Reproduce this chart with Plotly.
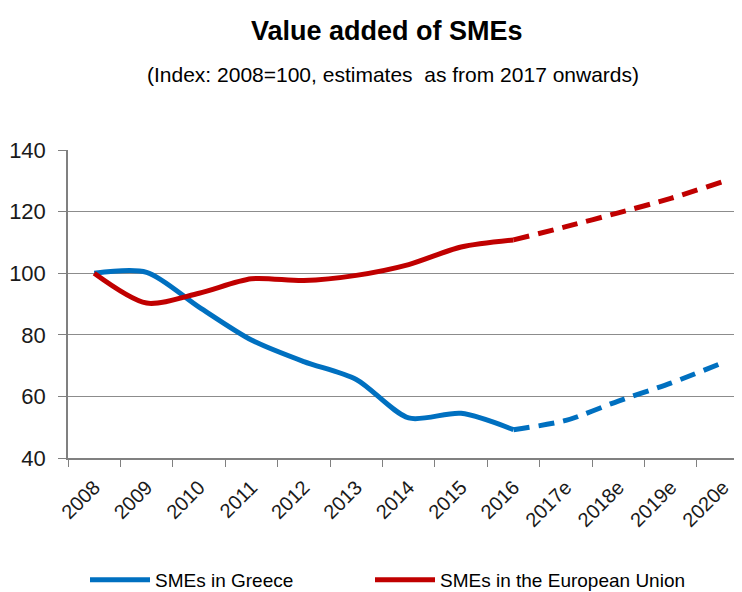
import plotly.graph_objects as go

years = ["2008", "2009", "2010", "2011", "2012", "2013", "2014", "2015", "2016",
         "2017e", "2018e", "2019e", "2020e"]
greece = [100, 100.3, 89, 78.3, 71.3, 65.5, 53, 54.5, 49.2, 52.2, 58.5, 64.3, 71]
eu = [100, 90.3, 93.5, 98.2, 97.6, 99.3, 102.8, 108.5, 110.8, 115.1, 119.6, 124.3, 129.8]
n_actual = 9  # 2008..2016 actual, estimates from 2017 onwards

title_text = "Value added of SMEs"
subtitle_text = "(Index: 2008=100, estimates  as from 2017 onwards)"

BLUE = "#0070C0"
RED = "#C00000"
FONT = "Liberation Sans, Arial, sans-serif"

fig = go.Figure()
fig.add_trace(go.Scatter(x=years[:n_actual], y=greece[:n_actual], mode="lines",
                         name="SMEs in Greece", legend="legend",
                         line=dict(color=BLUE, width=5, shape="spline", smoothing=0.8)))
fig.add_trace(go.Scatter(x=years[n_actual - 1:], y=greece[n_actual - 1:], mode="lines",
                         showlegend=False,
                         line=dict(color=BLUE, width=5, shape="spline", smoothing=0.8,
                                   dash="16px,9px")))
fig.add_trace(go.Scatter(x=years[:n_actual], y=eu[:n_actual], mode="lines",
                         name="SMEs in the European Union", legend="legend2",
                         line=dict(color=RED, width=5, shape="spline", smoothing=0.8)))
fig.add_trace(go.Scatter(x=years[n_actual - 1:], y=eu[n_actual - 1:], mode="lines",
                         showlegend=False,
                         line=dict(color=RED, width=5, shape="spline", smoothing=0.8,
                                   dash="16px,9px")))

legend_style = dict(orientation="h", xanchor="left", y=(458 - 580) / 308, yanchor="middle",
                    font=dict(size=19, family=FONT, color="#000000"),
                    itemwidth=60, bgcolor="rgba(0,0,0,0)")

# the page body adds an 8px offset, so margins are reduced by 8px
fig.update_layout(
    width=742, height=592,
    margin=dict(l=60, r=8, t=142, b=142, autoexpand=False),
    paper_bgcolor="white", plot_bgcolor="white",
    font=dict(family=FONT, color="#1a1a1a"),
    legend=dict(x=17 / 674, **legend_style),
    legend2=dict(x=(375 - 83 + 10) / 674, **legend_style),
    showlegend=True,
    annotations=[
        dict(text="<b>" + title_text + "</b>", xref="paper", yref="paper",
             x=(387 - 68) / 674, y=(458 - 31) / 308, xanchor="center", yanchor="middle",
             showarrow=False, font=dict(size=27, family=FONT, color="#000000")),
        dict(text=subtitle_text, xref="paper", yref="paper",
             x=(393 - 68) / 674, y=(458 - 74) / 308, xanchor="center", yanchor="middle",
             showarrow=False, font=dict(size=21, family=FONT, color="#000000")),
    ],
)
fig.update_xaxes(type="category", categoryorder="array", categoryarray=years,
                 range=[-0.5, 12.36], tickson="boundaries", ticks="outside",
                 ticklen=7, tickcolor="#808080", showgrid=False, showline=True,
                 linecolor="#808080", linewidth=1.5, tickangle=-45, automargin=False,
                 ticklabelstandoff=8,
                 tickfont=dict(size=20, family=FONT, color="#1a1a1a"))
fig.update_yaxes(range=[40, 140], dtick=20, tick0=40, ticks="outside", ticklen=8,
                 tickcolor="#808080", showline=True, linecolor="#808080", linewidth=1.5,
                 showgrid=True, gridcolor="#8c8c8c", gridwidth=1.3, zeroline=False,
                 automargin=False, ticklabelstandoff=8,
                 tickfont=dict(size=22, family=FONT, color="#1a1a1a"))

fig.write_html("out.html")
